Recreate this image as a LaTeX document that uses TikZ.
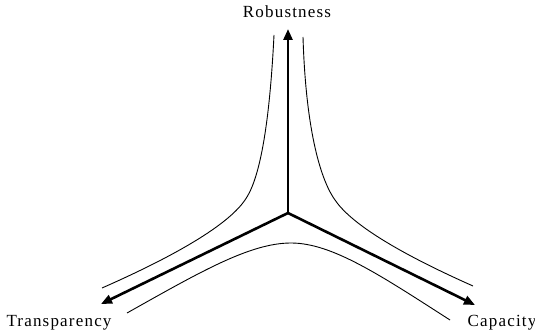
\documentclass[tikz,border=0pt]{standalone}
\usepackage{fontspec}
\setmainfont{Liberation Serif}[LetterSpace=7]
\usetikzlibrary{arrows.meta}
\begin{document}
\begin{tikzpicture}[x=1pt,y=-1pt,
  axis/.style={line width=2.6pt,-{Triangle[length=11pt,width=9pt]}},
  band/.style={line width=0.9pt},
  lbl/.style={font=\fontsize{17}{19}\selectfont,inner sep=0pt}]
\useasboundingbox (0,0) rectangle (535,336);
\coordinate (o) at (288,213);
\coordinate (r) at (288,29);
\coordinate (t) at (101,304);
\coordinate (c) at (475,305);
\draw[axis] (o) -- (r);
\draw[axis] (o) -- (t);
\draw[axis] (o) -- (c);
\coordinate (a1) at (274,35);
\coordinate (a2) at (245,200);
\coordinate (a3) at (102,288);
\coordinate (b1) at (303,37);
\coordinate (b2) at (335,200);
\coordinate (b3) at (473,286);
\coordinate (d1) at (127,313);
\coordinate (d2) at (291,243);
\coordinate (d3) at (450,320);
\draw[band] (a1) .. controls (269,135) and (258,182) .. (a2) .. controls (230,222) and (186,251) .. (a3);
\draw[band] (b1) .. controls (306,135) and (322,182) .. (b2) .. controls (350,222) and (392,250) .. (b3);
\draw[band] (d1) .. controls (200,272) and (250,243) .. (d2) .. controls (332,243) and (380,275) .. (d3);
\node[lbl] (rl) at (287,12) {Robustness};
\node[lbl] (tl) at (59,323) {Transparency};
\node[lbl] (cl) at (502,323) {Capacity};
\end{tikzpicture}
\end{document}
